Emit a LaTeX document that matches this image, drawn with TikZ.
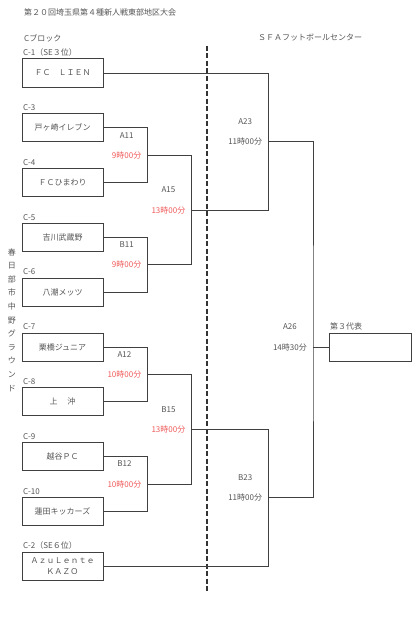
\documentclass[tikz,border=0pt]{standalone}
\usepackage{fontspec}
\setmainfont{Noto Sans CJK JP}
\usepackage{xcolor}
\usepackage{tikz}
\usetikzlibrary{positioning,calc}
\definecolor{txtgray}{HTML}{555555}
\definecolor{linegray}{HTML}{404040}
\definecolor{timered}{HTML}{F05A5A}

\begin{document}
\begin{tikzpicture}[
    x=1pt, y=1pt,
    node distance=26.8pt,
    font=\fontsize{8}{10}\selectfont,
    team/.style={draw=linegray, line width=1pt, outer sep=0pt, minimum width=81pt, minimum height=28pt, inner sep=1pt, text=txtgray, align=center},
    tag/.style={inner sep=1pt, text=txtgray},
    line/.style={draw=linegray, line width=1pt},
]
\useasboundingbox (0,0) rectangle (412,-618);

% Header
\node[tag, anchor=west] (title) at (23,-12) {第２０回埼玉県第４種新人戦東部地区大会};
\node[tag, anchor=west] (block) at (23,-38) {Cブロック};
\node[tag] (sfa) at (310,-38) {ＳＦＡフットボールセンター};
\node[tag, align=center, font=\fontsize{8}{13.6}\selectfont] (venue) at (12,-320) {春\\日\\部\\市\\中\\野\\グ\\ラ\\ウ\\ン\\ド};

% Teams
\node[team] (c1) at (62.5,-73) {ＦＣ　ＬＩＥＮ};
\node[team, below=of c1] (c3) {戸ヶ崎イレブン};
\node[team, below=of c3] (c4) {ＦＣひまわり};
\node[team, below=of c4] (c5) {吉川武蔵野};
\node[team, below=of c5] (c6) {八潮メッツ};
\node[team, below=of c6] (c7) {栗橋ジュニア};
\node[team, below=of c7] (c8) {上　 沖};
\node[team, below=of c8] (c9) {越谷ＰＣ};
\node[team, below=of c9] (c10) {蓮田キッカーズ};
\node[team, below=of c10] (c2) {ＡｚｕＬｅｎｔｅ\\[1pt]ＫＡＺＯ};
\node[team, minimum width=82pt, right=226pt of c7] (final) {};

\foreach \t/\l in {c1/C-1（SE３位）, c3/C-3, c4/C-4, c5/C-5, c6/C-6, c7/C-7, c8/C-8, c9/C-9, c10/C-10, c2/C-2（SE６位）}
    \node[tag, above right=2pt and 0pt of \t.north west] (\t-lbl) {\l};
\node[tag, above right=2pt and 0pt of final.north west] (final-lbl) {第３代表};

% Divider
\draw[line, dashed, line width=1.3pt, draw=black!80, dash pattern=on 5pt off 2.5pt] (207,-46) -- (207,-593);

% Match points
\coordinate (a11) at ($(c3.east)!.5!(c4.east)+(44.5,0)$);
\coordinate (b11) at ($(c5.east)!.5!(c6.east)+(44.5,0)$);
\coordinate (a12) at ($(c7.east)!.5!(c8.east)+(44.5,0)$);
\coordinate (b12) at ($(c9.east)!.5!(c10.east)+(44.5,0)$);
\coordinate (a15) at ($(a11)!.5!(b11)+(44,0)$);
\coordinate (b15) at ($(a12)!.5!(b12)+(44,0)$);
\coordinate (a23) at ($(c1.east)!.5!(a15)+(121,0)$);
\coordinate (b23) at ($(b15)!.5!(c2.east)+(121,0)$);
\coordinate (a26) at ($(final.west)+(-16,0)$);

% Bracket
\draw[line] (c3.east) -| (a11) |- (c4.east);
\draw[line] (c5.east) -| (b11) |- (c6.east);
\draw[line] (c7.east) -| (a12) |- (c8.east);
\draw[line] (c9.east) -| (b12) |- (c10.east);
\draw[line] (a11) -| (a15) |- (b11);
\draw[line] (a12) -| (b15) |- (b12);
\draw[line] (c1.east) -| (a23) |- (a15);
\draw[line] (b15) -| (b23) |- (c2.east);
\draw[line] (a23) -| (a26) |- (b23);
\draw[line] (a26) -- (final.west);

% Match labels
\foreach \m/\n/\t/\c in {a11/A11/9時00分/timered, b11/B11/9時00分/timered, a12/A12/10時00分/timered, b12/B12/10時00分/timered, a15/A15/13時00分/timered, b15/B15/13時00分/timered, a23/A23/11時00分/txtgray, b23/B23/11時00分/txtgray, a26/A26/14時30分/txtgray} {
    \node[tag, text=\c, left=5pt of \m] (\m-t) {\t};
    \node[tag] (\m-n) at ($(\m-t)+(0,20)$) {\n};
}
\end{tikzpicture}
\end{document}
